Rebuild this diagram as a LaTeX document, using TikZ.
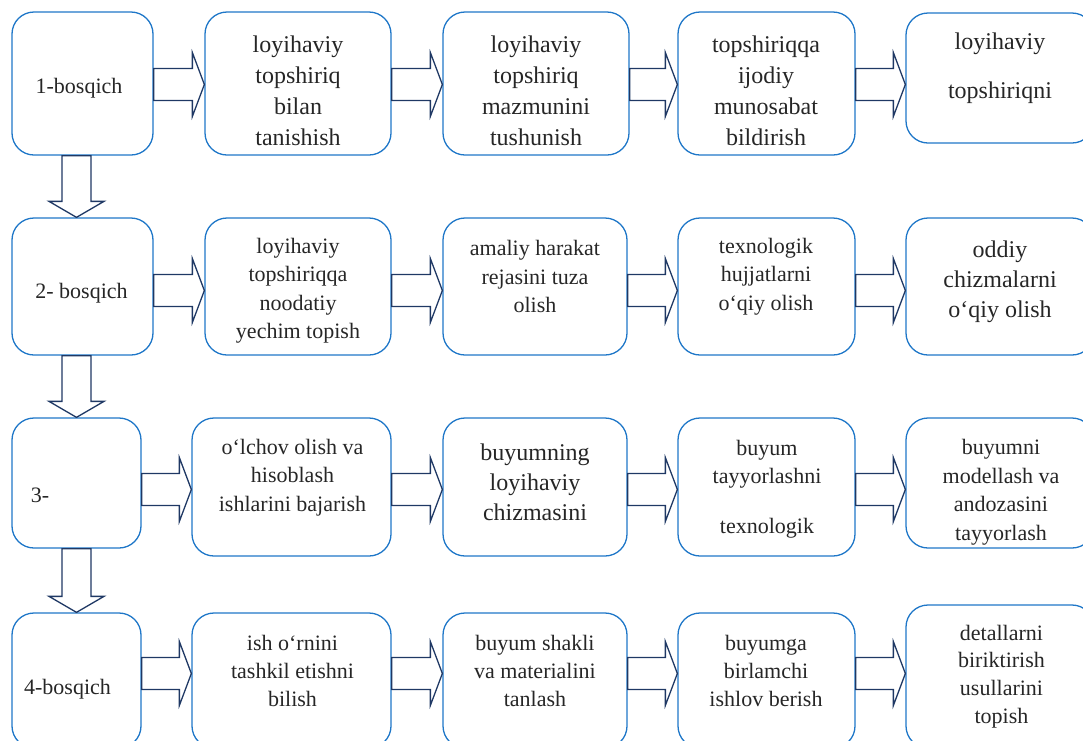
\documentclass[tikz,border=0pt]{standalone}
\usepackage{fontspec}
\setmainfont{Liberation Serif}
\usetikzlibrary{calc}

\definecolor{boxblue}{RGB}{31,119,200}
\definecolor{arrownavy}{RGB}{31,56,100}

% hollow block arrow to the right: from, to, row height
\newcommand{\rightblock}[3]{%
  \draw[blockline] let \p1=(#1.east), \p2=(#2.west), \p3=(0,#3) in
    (\x1,\y3+16pt) -- (\x2-12pt,\y3+16pt) -- (\x2-12pt,\y3+32pt) -- (\x2,\y3)
    -- (\x2-12pt,\y3-32pt) -- (\x2-12pt,\y3-16pt) -- (\x1,\y3-16pt) -- cycle;}
% hollow block arrow downwards: from, to
\newcommand{\downblock}[2]{%
  \draw[blockline] let \p1=(#1.south), \p2=(#2.north), \p3=(76.5,0) in
    (\x3-14.5pt,\y1) -- (\x3-14.5pt,\y2+16pt) -- (\x3-27.5pt,\y2+16pt) -- (\x3,\y2)
    -- (\x3+27.5pt,\y2+16pt) -- (\x3+14.5pt,\y2+16pt) -- (\x3+14.5pt,\y1) -- cycle;}

\begin{document}
\begin{tikzpicture}[x=1pt,y=-1pt,
    box/.style 2 args={draw=boxblue,line width=1.3pt,rounded corners=22pt,
      minimum width=#1pt,minimum height=#2pt,inner sep=0pt},
    txt/.style={align=center,inner sep=0pt,text=black!85,font=\fontsize{22}{28.5}\selectfont},
    bigtxt/.style={txt,font=\fontsize{24}{31}\selectfont},
    blockline/.style={draw=arrownavy,line width=1.3pt,line join=miter}]
  \useasboundingbox (0,0) rectangle (1083,740);

  % row 1
  \node[box={141}{143}] (b11) at (82.5,83.5) {};
  \node[box={186}{143}] (b12) at (298,83.5) {};
  \node[box={186}{143}] (b13) at (536,83.5) {};
  \node[box={177}{143}] (b14) at (766.5,83.5) {};
  \node[box={188}{130}] (b15) at (1000,78) {};
  \node[txt] (t11) at (79,88) {1-bosqich};
  \node[bigtxt] (t12) at (298,90.5) {loyihaviy\\topshiriq\\bilan\\tanishish};
  \node[bigtxt] (t13) at (536,90.5) {loyihaviy\\topshiriq\\mazmunini\\tushunish};
  \node[bigtxt] (t14) at (766,90.5) {topshiriqqa\\ijodiy\\munosabat\\bildirish};
  \node[bigtxt] (t15) at (1000,68.5) {loyihaviy\\[18pt]topshiriqni};

  % row 2
  \node[box={141}{137}] (b21) at (82.5,286.5) {};
  \node[box={186}{137}] (b22) at (298,286.5) {};
  \node[box={184}{137}] (b23) at (535,286.5) {};
  \node[box={177}{137}] (b24) at (766.5,286.5) {};
  \node[box={188}{137}] (b25) at (1000,286.5) {};
  \node[txt] (t21) at (81.5,293) {2- bosqich};
  \node[txt] (t22) at (298,290.5) {loyihaviy\\topshiriqqa\\noodatiy\\yechim topish};
  \node[txt] (t23) at (535,276.5) {amaliy harakat\\rejasini tuza\\olish};
  \node[txt] (t24) at (766,276.5) {texnologik\\hujjatlarni\\o‘qiy olish};
  \node[bigtxt,font=\fontsize{24}{30}\selectfont] (t25) at (1000,282) {oddiy\\chizmalarni\\o‘qiy olish};

  % row 3
  \node[box={129}{130}] (b31) at (76.5,483) {};
  \node[box={199}{138}] (b32) at (291.5,487) {};
  \node[box={184}{138}] (b33) at (535,487) {};
  \node[box={177}{138}] (b34) at (766.5,487) {};
  \node[box={188}{130}] (b35) at (1000,483) {};
  \node[txt] (t31) at (40,495) {3-};
  \node[txt] (t32) at (292.5,477.5) {o‘lchov olish va\\hisoblash\\ishlarini bajarish};
  \node[bigtxt,font=\fontsize{24}{30}\selectfont] (t33) at (535,482) {buyumning\\loyihaviy\\chizmasini};
  \node[txt] (t34) at (767,489) {buyum\\tayyorlashni\\[21pt]texnologik};
  \node[txt] (t35) at (1001,492) {buyumni\\modellash va\\andozasini\\tayyorlash};

  % row 4
  \node[box={129}{135}] (b41) at (76.5,680.5) {};
  \node[box={199}{135}] (b42) at (291.5,680.5) {};
  \node[box={184}{135}] (b43) at (535,680.5) {};
  \node[box={177}{135}] (b44) at (766.5,680.5) {};
  \node[box={188}{143}] (b45) at (1000,676.5) {};
  \node[txt] (t41) at (67.5,689) {4-bosqich};
  \node[txt,font=\fontsize{22}{28}\selectfont] (t42) at (292.5,671) {ish o‘rnini\\tashkil etishni\\bilish};
  \node[txt,font=\fontsize{22}{28}\selectfont] (t43) at (535,671) {buyum shakli\\va materialini\\tanlash};
  \node[txt,font=\fontsize{22}{28}\selectfont] (t44) at (766,671) {buyumga\\birlamchi\\ishlov berish};
  \node[txt,font=\fontsize{22}{27.7}\selectfont] (t45) at (1001.5,676.5) {detallarni\\biriktirish\\usullarini\\topish};

  % arrows
  \foreach \from/\to/\ay in {b11/b12/84.5,b12/b13/84.5,b13/b14/84.5,b14/b15/84.5,
      b21/b22/290.5,b22/b23/290.5,b23/b24/290.5,b24/b25/290.5,
      b31/b32/489.5,b32/b33/489.5,b33/b34/489.5,b34/b35/489.5,
      b41/b42/673.5,b42/b43/673.5,b43/b44/673.5,b44/b45/673.5}
    \rightblock{\from}{\to}{\ay};
  \foreach \from/\to in {b11/b21,b21/b31,b31/b41}
    \downblock{\from}{\to};
\end{tikzpicture}
\end{document}
